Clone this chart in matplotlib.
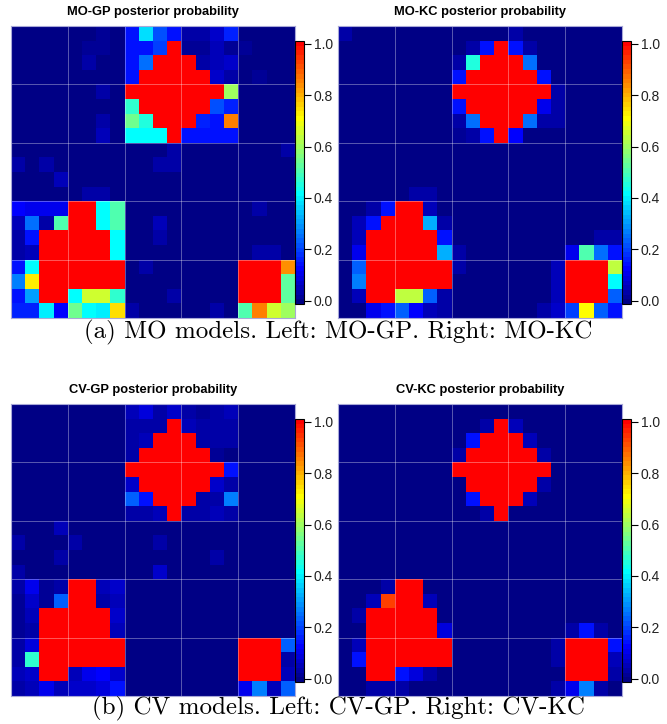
import numpy as np
import matplotlib
matplotlib.use("Agg")
import matplotlib.pyplot as plt
from matplotlib.colors import LinearSegmentedColormap, Normalize
from matplotlib.cm import ScalarMappable

# posterior probability grids (20 x 20, row 0 at the top)
mo_gp = [
    [0, 0, 0, 0, 0, 0, .02, 0, .15, .38, .22, .14, .04, .04, .07, .16, 0, 0, 0, 0],
    [0, 0, 0, 0, 0, .02, .02, 0, .15, .15, .2, 1, .02, .02, .05, .02, .02, 0, 0, 0],
    [0, 0, 0, 0, 0, .03, 0, 0, .15, .25, 1, 1, 1, .03, .05, .07, 0, 0, 0, 0],
    [0, 0, 0, 0, 0, 0, 0, 0, .15, 1, 1, 1, 1, 1, .07, .03, 0, .02, 0, 0],
    [0, 0, 0, 0, 0, 0, .03, 0, 1, 1, 1, 1, 1, 1, 1, .6, 0, 0, 0, 0],
    [0, 0, 0, 0, 0, 0, 0, 0, .48, 1, 1, 1, 1, 1, .22, .17, 0, 0, 0, 0],
    [0, 0, 0, 0, 0, 0, .03, 0, .55, .46, 1, 1, 1, .16, .14, .86, 0, 0, 0, 0],
    [0, 0, 0, 0, 0, 0, .06, 0, .42, .42, .41, 1, .15, .15, .15, .15, 0, 0, 0, 0],
    [0, 0, 0, 0, 0, 0, 0, 0, 0, 0, 0, .03, 0, 0, 0, 0, 0, 0, 0, .03],
    [.03, 0, .04, 0, 0, 0, 0, 0, 0, 0, .03, .03, 0, 0, 0, 0, 0, 0, 0, 0],
    [0, 0, 0, .06, 0, 0, 0, 0, 0, 0, 0, 0, 0, 0, 0, 0, 0, 0, 0, 0],
    [0, 0, 0, 0, 0, .03, .03, 0, 0, 0, 0, 0, 0, 0, 0, 0, 0, 0, 0, 0],
    [.13, .1, .1, .1, 1, 1, .42, .5, 0, 0, 0, 0, 0, 0, 0, 0, 0, .03, 0, 0],
    [.06, .26, .04, .5, 1, 1, .42, .5, 0, 0, .06, 0, 0, 0, 0, 0, 0, 0, 0, 0],
    [.04, .14, 1, 1, 1, 1, 1, .42, 0, 0, .03, 0, 0, 0, 0, 0, 0, 0, 0, 0],
    [.04, .06, 1, 1, 1, 1, 1, .42, 0, 0, 0, 0, 0, 0, 0, 0, 0, .04, .03, 0],
    [.15, .42, 1, 1, 1, 1, 1, 1, 0, .03, 0, 0, 0, 0, 0, 0, 1, 1, 1, .84],
    [.27, .72, 1, 1, 1, 1, 1, 1, 0, 0, 0, 0, 0, 0, 0, 0, 1, 1, 1, .53],
    [.15, .3, 1, 1, .42, .65, .65, .48, 0, 0, 0, .03, 0, 0, 0, 0, 1, 1, 1, .53],
    [.17, .17, .4, .13, .55, .42, .4, .74, .03, 0, 0, 0, 0, 0, .04, 0, .5, .86, .65, .6],
]

mo_kc = [
    [.03, 0, 0, 0, 0, 0, 0, 0, 0, 0, 0, 0, .03, 0, 0, 0, 0, 0, 0, 0],
    [0, 0, 0, 0, 0, 0, 0, 0, 0, .03, .15, 1, .15, .04, 0, 0, 0, 0, 0, 0],
    [0, 0, 0, 0, 0, 0, 0, 0, .03, .45, 1, 1, 1, .26, 0, 0, 0, 0, 0, 0],
    [0, 0, 0, 0, 0, 0, 0, 0, .15, 1, 1, 1, 1, 1, .15, 0, 0, 0, 0, 0],
    [0, 0, 0, 0, 0, 0, 0, 0, 1, 1, 1, 1, 1, 1, 1, .03, 0, 0, 0, 0],
    [0, 0, 0, 0, 0, 0, 0, 0, .15, 1, 1, 1, 1, 1, .1, .03, 0, 0, 0, 0],
    [0, 0, 0, 0, 0, 0, 0, 0, .03, .26, 1, 1, 1, .26, .04, .04, 0, 0, 0, 0],
    [0, 0, 0, 0, 0, 0, 0, 0, .02, .04, .14, 1, .13, 0, 0, 0, 0, 0, 0, 0],
    [0, 0, 0, 0, 0, 0, 0, 0, 0, 0, 0, 0, 0, 0, 0, 0, 0, 0, 0, 0],
    [0, 0, 0, 0, 0, 0, 0, 0, 0, 0, 0, 0, 0, 0, 0, 0, 0, 0, 0, 0],
    [0, 0, 0, 0, 0, 0, 0, 0, 0, 0, 0, 0, 0, 0, 0, 0, 0, 0, 0, 0],
    [0, 0, 0, 0, 0, .04, .03, 0, 0, 0, 0, 0, 0, 0, 0, 0, 0, 0, 0, 0],
    [0, 0, .04, .15, 1, 1, .05, 0, 0, 0, 0, 0, 0, 0, 0, 0, 0, 0, 0, 0],
    [0, .06, .15, 1, 1, 1, .33, .04, 0, 0, 0, 0, 0, 0, 0, 0, 0, 0, 0, 0],
    [0, .06, 1, 1, 1, 1, 1, .15, 0, 0, 0, 0, 0, 0, 0, 0, 0, 0, .03, .04],
    [0, .1, 1, 1, 1, 1, 1, .33, .03, 0, 0, 0, 0, 0, 0, 0, .1, .5, .26, .14],
    [0, .24, 1, 1, 1, 1, 1, 1, .03, 0, 0, 0, 0, 0, 0, .05, 1, 1, 1, .63],
    [0, .27, 1, 1, 1, 1, 1, 1, 0, 0, 0, 0, 0, 0, 0, .05, 1, 1, 1, .42],
    [0, .05, 1, 1, .63, .63, .24, .04, 0, 0, 0, 0, 0, 0, 0, .05, 1, 1, 1, .24],
    [0, 0, .1, .14, .24, .13, .05, .03, 0, 0, 0, 0, 0, 0, .04, .07, .2, .7, .24, .15],
]

cv_gp = [
    [0, 0, 0, 0, 0, 0, 0, 0, .05, .08, .04, .07, .03, .02, .03, .05, 0, 0, 0, 0],
    [0, 0, 0, 0, 0, 0, 0, 0, .03, .03, .03, 1, .05, .03, .03, .03, 0, 0, 0, 0],
    [0, 0, 0, 0, 0, 0, 0, 0, .03, .05, 1, 1, 1, .03, .03, .03, 0, 0, 0, 0],
    [0, 0, 0, 0, 0, 0, 0, 0, .03, 1, 1, 1, 1, 1, .02, 0, 0, 0, 0, 0],
    [0, 0, 0, 0, 0, 0, 0, 0, 1, 1, 1, 1, 1, 1, 1, .15, 0, 0, 0, 0],
    [0, 0, 0, 0, 0, 0, 0, 0, .07, 1, 1, 1, 1, 1, .07, .04, 0, 0, 0, 0],
    [0, 0, 0, 0, 0, 0, 0, 0, .24, .15, 1, 1, 1, .04, .04, .27, 0, 0, 0, 0],
    [0, 0, 0, 0, 0, 0, 0, 0, .04, .04, .05, 1, .03, .03, .05, .03, 0, 0, 0, 0],
    [0, 0, 0, .06, 0, 0, 0, 0, 0, 0, 0, 0, 0, 0, 0, 0, 0, 0, 0, 0],
    [.03, 0, 0, 0, .03, 0, 0, 0, 0, 0, .03, 0, 0, 0, 0, 0, 0, 0, 0, 0],
    [0, 0, 0, .03, 0, 0, 0, 0, 0, 0, 0, 0, 0, 0, .03, 0, 0, 0, 0, 0],
    [.03, 0, 0, 0, 0, 0, 0, 0, 0, 0, .07, 0, 0, 0, 0, 0, 0, 0, 0, 0],
    [.03, .1, .02, .04, 1, 1, .05, .07, 0, 0, 0, 0, 0, 0, 0, 0, 0, 0, 0, 0],
    [.02, .07, .02, .24, 1, 1, .03, .05, 0, 0, 0, 0, 0, 0, 0, 0, 0, 0, 0, 0],
    [.02, .05, 1, 1, 1, 1, 1, .07, 0, 0, 0, 0, 0, 0, 0, 0, 0, 0, 0, 0],
    [.02, .03, 1, 1, 1, 1, 1, .05, 0, 0, 0, 0, 0, 0, 0, 0, 0, 0, 0, 0],
    [.04, .09, 1, 1, 1, 1, 1, 1, 0, 0, 0, 0, 0, 0, 0, 0, 1, 1, 1, .24],
    [.03, .48, 1, 1, 1, 1, 1, 1, 0, 0, 0, 0, 0, 0, 0, 0, 1, 1, 1, .04],
    [.05, .07, 1, 1, .05, .1, .13, .07, 0, 0, 0, 0, 0, 0, 0, 0, 1, 1, 1, .05],
    [.04, .05, .1, .05, .07, .07, .09, .15, 0, 0, 0, 0, 0, 0, 0, 0, .1, .27, .05, .24],
]

cv_kc = [
    [0, 0, 0, 0, 0, 0, 0, 0, 0, 0, 0, 0, 0, 0, 0, 0, 0, 0, 0, 0],
    [0, 0, 0, 0, 0, 0, 0, 0, 0, 0, .04, 1, .05, 0, 0, 0, 0, 0, 0, 0],
    [0, 0, 0, 0, 0, 0, 0, 0, 0, .15, 1, 1, 1, .06, 0, 0, 0, 0, 0, 0],
    [0, 0, 0, 0, 0, 0, 0, 0, .03, 1, 1, 1, 1, 1, .04, 0, 0, 0, 0, 0],
    [0, 0, 0, 0, 0, 0, 0, 0, 1, 1, 1, 1, 1, 1, 1, 0, 0, 0, 0, 0],
    [0, 0, 0, 0, 0, 0, 0, 0, 0, 1, 1, 1, 1, 1, .04, 0, 0, 0, 0, 0],
    [0, 0, 0, 0, 0, 0, 0, 0, 0, .15, 1, 1, 1, .05, 0, 0, 0, 0, 0, 0],
    [0, 0, 0, 0, 0, 0, 0, 0, 0, 0, .03, 1, 0, 0, 0, 0, 0, 0, 0, 0],
    [0, 0, 0, 0, 0, 0, 0, 0, 0, 0, 0, 0, 0, 0, 0, 0, 0, 0, 0, 0],
    [0, 0, 0, 0, 0, 0, 0, 0, 0, 0, 0, 0, 0, 0, 0, 0, 0, 0, 0, 0],
    [0, 0, 0, 0, 0, 0, 0, 0, 0, 0, 0, 0, 0, 0, 0, 0, 0, 0, 0, 0],
    [0, 0, 0, 0, 0, 0, 0, 0, 0, 0, 0, 0, 0, 0, 0, 0, 0, 0, 0, 0],
    [0, 0, 0, .04, 1, 1, 0, 0, 0, 0, 0, 0, 0, 0, 0, 0, 0, 0, 0, 0],
    [0, 0, .06, .92, 1, 1, .06, 0, 0, 0, 0, 0, 0, 0, 0, 0, 0, 0, 0, 0],
    [0, .04, 1, 1, 1, 1, 1, 0, 0, 0, 0, 0, 0, 0, 0, 0, 0, 0, 0, 0],
    [0, 0, 1, 1, 1, 1, 1, .09, 0, 0, 0, 0, 0, 0, 0, 0, .03, .14, .03, 0],
    [0, .05, 1, 1, 1, 1, 1, 1, 0, 0, 0, 0, 0, 0, 0, .03, 1, 1, 1, .15],
    [0, .15, 1, 1, 1, 1, 1, 1, 0, 0, 0, 0, 0, 0, 0, .03, 1, 1, 1, .05],
    [0, 0, 1, 1, .15, .09, .04, 0, 0, 0, 0, 0, 0, 0, 0, 0, 1, 1, 1, .03],
    [0, 0, .03, .03, .03, 0, 0, 0, 0, 0, 0, 0, 0, 0, 0, .04, .1, .27, .03, 0],
]

titles = ["MO-GP posterior probability", "MO-KC posterior probability",
          "CV-GP posterior probability", "CV-KC posterior probability"]
captions = ["(a) MO models. Left: MO-GP. Right: MO-KC",
            "(b) CV models. Left: CV-GP. Right: CV-KC"]
bar_ticks = [0.0, 0.2, 0.4, 0.6, 0.8, 1.0]

W, H = 667, 724
fig = plt.figure(figsize=(W / 100, H / 100), dpi=100)

# navy -> blue -> cyan -> yellow -> red, 56 discrete levels
cmap = LinearSegmentedColormap.from_list(
    "tim", [(0.0, "#000085"), (0.127, "#0000FF"), (0.418, "#00FFFF"),
            (0.709, "#FFFF00"), (1.0, "#FF0000")], N=56)
norm = Normalize(vmin=-0.012, vmax=1.01)


def px_rect(x0, y0, x1, y1):
    return [x0 / W, 1 - y1 / H, (x1 - x0) / W, (y1 - y0) / H]


grids = [mo_gp, mo_kc, cv_gp, cv_kc]
lefts = [11, 338]
tops = [26, 404]

for k, grid in enumerate(grids):
    row, col = divmod(k, 2)
    x0 = lefts[col]
    y0 = tops[row]
    ax = fig.add_axes(px_rect(x0, y0, x0 + 284, y0 + 292))
    ax.imshow(np.array(grid), cmap=cmap, norm=norm, aspect="auto",
              interpolation="nearest")
    for g in [3.5, 7.5, 11.5, 15.5]:
        ax.axvline(g, color="white", alpha=0.35, lw=0.7)
        ax.axhline(g, color="white", alpha=0.35, lw=0.7)
    ax.set_xticks([])
    ax.set_yticks([])
    for s in ax.spines.values():
        s.set_color("#a8a8d8")
        s.set_linewidth(0.8)
    fig.text((x0 + 142) / W, 1 - (y0 - 14) / H, titles[k], ha="center",
             va="center", fontsize=9.3, fontweight="bold",
             family="Liberation Sans")

    cax = fig.add_axes(px_rect(x0 + 284, y0 + 15, x0 + 293, y0 + 278))
    cb = fig.colorbar(ScalarMappable(norm=norm, cmap=cmap), cax=cax,
                      ticks=bar_ticks)
    cb.outline.set_linewidth(0.8)
    cb.ax.tick_params(length=5, width=0.8, pad=2, labelsize=10)
    cb.ax.set_yticklabels(["%.1f" % t for t in bar_ticks],
                          family="Liberation Sans", color="#222222")

fig.text(338 / W, 1 - 332 / H, captions[0], ha="center", va="center",
         fontsize=18, family="cmr10")
fig.text(338 / W, 1 - 708 / H, captions[1], ha="center", va="center",
         fontsize=18, family="cmr10")

fig.savefig("out.png", dpi=100)
